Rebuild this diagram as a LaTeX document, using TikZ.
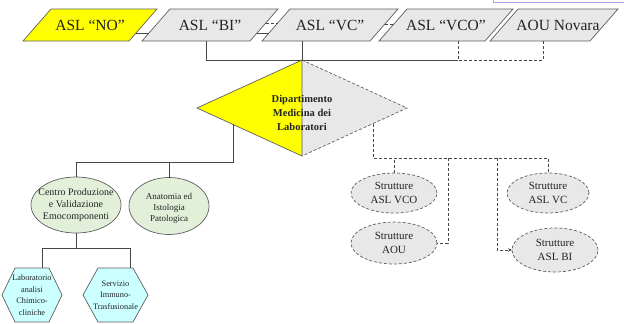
\documentclass[tikz,border=0pt]{standalone}
\usepackage{fontspec}
\setmainfont{Liberation Serif}
\usetikzlibrary{shapes.geometric,calc,arrows.meta}
\definecolor{yel}{RGB}{255,255,0}
\definecolor{lgray}{RGB}{232,232,232}
\definecolor{edgec}{RGB}{95,95,95}
\definecolor{lgreen}{RGB}{226,240,217}
\definecolor{lcyan}{RGB}{204,255,255}
\definecolor{linec}{RGB}{70,70,70}
\definecolor{blueb}{RGB}{165,165,240}
\definecolor{txt}{RGB}{35,35,35}
\newcommand{\Hexa}[6]{%
  \draw[hexline] (#2-#4/2,#3) -- (#2-#4/2+#5,#3-27) -- (#2+#4/2-#5,#3-27) -- (#2+#4/2,#3) -- (#2+#4/2-#5,#3+27) -- (#2-#4/2+#5,#3+27) -- cycle;
  \node[hextext, minimum width=#4 pt] (#1) at (#2,#3) {#6};}
\newcommand{\Para}[6]{%
  \coordinate (#1bl) at (#2-#3/2-14,41);
  \coordinate (#1tl) at (#2-#3/2+14,9);
  \coordinate (#1tr) at (#2+#3/2+14,9);
  \coordinate (#1br) at (#2+#3/2-14,41);
  \draw[paraline, fill=#4] (#1bl) -- (#1tl) -- (#1tr) -- (#1br) -- cycle;
  \node[toptext] (#1) at (#2+#5,25) {#6};}
\begin{document}
\begin{tikzpicture}[x=1pt,y=-1pt,
  paraline/.style={draw=edgec, line width=0.7pt},
  toptext/.style={font=\fontsize{15.5}{18}\selectfont, text=txt, inner sep=0pt},
  conn/.style={draw=linec, line width=0.7pt},
  dconn/.style={conn, dash pattern=on 3pt off 2pt},
  greenell/.style={ellipse, draw=edgec, line width=0.7pt, fill=lgreen, inner sep=0pt, outer sep=0pt},
  gtext/.style={align=center, text=txt, inner sep=0pt},
  grayell/.style={ellipse, draw=edgec, line width=0.7pt, dash pattern=on 3pt off 2pt, fill=lgray, inner sep=0pt, outer sep=0pt},
  stext/.style={align=center, text=txt, inner sep=0pt, font=\fontsize{11}{14}\selectfont},
  hexline/.style={draw=edgec, line width=0.7pt, fill=lcyan},
  hextext/.style={align=center, text=txt, inner sep=0pt, minimum height=54pt, font=\fontsize{8.3}{11.6}\selectfont},
  diptext/.style={align=center, text=txt, inner sep=0pt, font=\bfseries\fontsize{10.5}{14}\selectfont}
]
\useasboundingbox (0,0) rectangle (624,324);
\clip (0,0) rectangle (624,324);

% partial frame at top right
\draw[blueb, line width=0.8pt, fill=white] (493,-10) rectangle (640,2);

% top row
\Para{no}{90}{106}{yel}{0}{ASL “NO”}
\Para{bi}{210}{108}{lgray}{0}{ASL “BI”}
\Para{vc}{330}{108}{lgray}{0}{ASL “VC”}
\Para{vco}{446}{106}{lgray}{0}{ASL “VCO”}
\Para{aou}{554}{100}{lgray}{4}{AOU Novara}

\draw[conn] ($(nobr)!0.25!(notr)$) -- ($(bibl)!0.25!(bitl)$);
\draw[conn] ($(bibr)!0.25!(bitr)$) -- ($(vcbl)!0.25!(vctl)$);
\draw[dconn] ($(bibr)!0.56!(bitr)$) -- ($(vcbl)!0.56!(vctl)$);
\draw[dconn] ($(vcbr)!0.53!(vctr)$) -- ($(vcobl)!0.53!(vcotl)$);

% diamond
\node[diamond, minimum width=210pt, minimum height=96pt, inner sep=0pt, outer sep=0pt, shape aspect=2.2] (dip) at (302,108) {};
\fill[yel] (dip.north) -- (dip.west) -- (dip.south) -- cycle;
\fill[lgray] (dip.north) -- (dip.east) -- (dip.south) -- cycle;
\draw[conn, draw=edgec] (dip.south) -- (dip.west) -- (dip.north) -- (dip.south);
\draw[dconn, draw=edgec] (dip.north) -- (dip.east) -- (dip.south);
\node[diptext] (diptxt) at ([yshift=-5pt]dip.center) {Dipartimento\\Medicina dei\\Laboratori};

% top bus
\coordinate (bib) at ($(bibl)!0.6!(bibr)$);
\coordinate (vcob) at ($(vcobl)!0.745!(vcobr)$);
\coordinate (aoub) at ($(aoubl)!0.53!(aoubr)$);
\coordinate (jn) at (vcob |- dip.north);
\draw[conn] (bib) |- (jn);
\draw[conn] (dip.north |- vcbl) -- (dip.north);
\draw[dconn] (vcob) -- (jn) -- (jn -| aoub) -- (aoub);

% left branch
\node[greenell, minimum width=90pt, minimum height=56pt,
  label={[gtext, font=\fontsize{10}{12}\selectfont]center:{Centro Produzione\\e Validazione\\Emocomponenti}}] (centro) at (76,205) {};
\node[greenell, minimum width=80pt, minimum height=57pt,
  label={[gtext, font=\fontsize{9}{11}\selectfont, yshift=-2pt]center:{Anatomia ed\\Istologia\\Patologica}}] (anat) at (169,206) {};
\coordinate (lb) at (0,162);
\coordinate (dl) at ($(dip.west)!0.343!(dip.south)$);
\draw[conn] (dl) -- (dl |- lb) -- (centro.north |- lb) -- (centro.north);
\draw[conn] (anat.north) -- (anat.north |- lb);

\Hexa{lab}{32}{295}{60}{13}{Laboratorio\\analisi\\Chimico-\\cliniche}
\Hexa{ser}{115.5}{295}{65}{15}{Servizio\\Immuno-\\Trasfusionale}
\coordinate (hb) at (0,248);
\draw[conn] (centro.south) -- (centro.south |- hb);
\draw[conn] ([xshift=10pt]lab.north) |- ([xshift=14.5pt]ser.north |- hb) -- ([xshift=14.5pt]ser.north);

% right branch
\node[grayell, minimum width=86pt, minimum height=40pt, label={[stext]center:{Strutture\\ASL VCO}}] (svco) at (394,193) {};
\node[grayell, minimum width=82pt, minimum height=40pt, label={[stext]center:{Strutture\\ASL VC}}] (svc) at (548,193) {};
\node[grayell, minimum width=86pt, minimum height=42pt, label={[stext]center:{Strutture\\AOU}}] (saou) at (394,243) {};
\node[grayell, minimum width=86pt, minimum height=44pt, label={[stext]center:{Strutture\\ASL BI}}] (sbi) at (555,250) {};

\coordinate (rb) at (0,158);
\coordinate (dr) at ($(dip.east)!0.324!(dip.south)$);
\draw[dconn] (dr) -- (dr |- rb) -- (svc.north |- rb) -- (svc.north);
\draw[dconn] (svco.north) -- (svco.north |- rb);
\coordinate (v1) at (448,158);
\coordinate (v2) at (497,158);
\draw[dconn] (v1) |- (saou.east);
\draw[dconn, -{Stealth[length=4pt,width=3.5pt]}] (v2) |- (sbi.west);
\end{tikzpicture}
\end{document}
